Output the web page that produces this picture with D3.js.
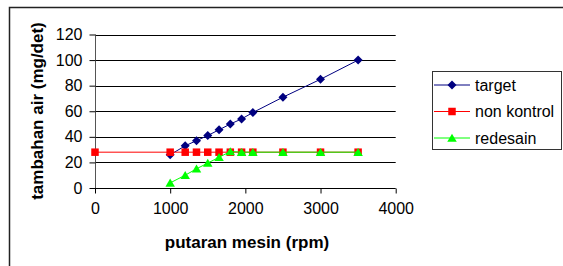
<!DOCTYPE html>
<html>
<head>
<meta charset="utf-8">
<script src="https://cdn.jsdelivr.net/npm/d3@7"></script>
<style>
  html, body { margin: 0; padding: 0; background: #fff; }
  svg { display: block; font-family: Arial, "Liberation Sans", sans-serif; }
</style>
</head>
<body>
<div class="graphics"></div>
<script>
// data
const rpm = [1000, 1200, 1350, 1500, 1650, 1800, 1950, 2100, 2500, 3000, 3500];
const target = [26, 33, 37, 41, 45.5, 50, 54, 59, 71, 85, 100];
const rpmNonKontrol = [0, 1000, 1200, 1350, 1500, 1650, 1800, 1950, 2100, 2500, 3000, 3500];
const nonKontrol = [28, 28, 28, 28, 28, 28, 28, 28, 28, 28, 28, 28];
const redesain = [4, 10, 15, 19.5, 24, 28.5, 28, 28, 28, 28, 28];
const xTicks = [0, 1000, 2000, 3000, 4000];
const yTicks = [0, 20, 40, 60, 80, 100, 120];

const width = 563;
const height = 266;
const margin = { top: 34.5, right: 166, bottom: 78, left: 95 };

// excel-like marker shapes (size = full width in px)
const diamond = {
  draw(ctx, s) { const r = s / 2; ctx.moveTo(0, -r); ctx.lineTo(r, 0); ctx.lineTo(0, r); ctx.lineTo(-r, 0); ctx.closePath(); }
};
const square = {
  draw(ctx, s) { const r = s / 2; ctx.rect(-r, -r, s, s); }
};
const triangle = {
  draw(ctx, s) { const r = s / 2; ctx.moveTo(0, -r * 0.9); ctx.lineTo(r, r * 0.8); ctx.lineTo(-r, r * 0.8); ctx.closePath(); }
};

const svg = d3.select('.graphics')
  .append('svg')
  .attr('width', width)
  .attr('height', height);

// outer frame (only top and left are visible in the picture)
svg.append('rect')
  .attr('x', 9.5).attr('y', 7.5)
  .attr('width', 600).attr('height', 300)
  .attr('fill', 'none')
  .attr('stroke', '#222')
  .attr('stroke-width', 1.5);

const x = d3.scaleLinear()
  .domain([0, 4000])
  .range([margin.left, width - margin.right - 1.3]);

const y = d3.scaleLinear()
  .domain([0, 120])
  .range([height - margin.bottom, margin.top]);

// gridlines
svg.append('g')
  .selectAll('line')
  .data(yTicks.filter(d => d > 0))
  .join('line')
  .attr('x1', x(0)).attr('x2', x(4000))
  .attr('y1', d => Math.round(y(d)) + 0.5)
  .attr('y2', d => Math.round(y(d)) + 0.5)
  .attr('stroke', '#000')
  .attr('stroke-width', 1);

// axes
const xAxis = svg.append('g')
  .attr('transform', `translate(0,${Math.round(y(0)) + 0.5})`)
  .call(d3.axisBottom(x).tickValues(xTicks).tickSize(5).tickPadding(9).tickFormat(d3.format('d')));
xAxis.select('.domain').attr('stroke', '#000').attr('d', `M${x(0)},0H${x(4000)}`);
xAxis.selectAll('line').attr('stroke', '#000');
xAxis.selectAll('text').attr('font-size', 16).attr('fill', '#000').attr('font-family', 'Arial, "Liberation Sans", sans-serif');

const yAxis = svg.append('g')
  .attr('transform', `translate(${Math.round(x(0)) + 0.5},0)`)
  .call(d3.axisLeft(y).tickValues(yTicks).tickSize(6).tickPadding(7));
yAxis.select('.domain').attr('stroke', '#555').attr('d', `M0,${y(0)}V${y(120)}`);
yAxis.selectAll('line').attr('stroke', '#000');
yAxis.selectAll('text').attr('font-size', 16).attr('fill', '#000').attr('font-family', 'Arial, "Liberation Sans", sans-serif');

// axis titles
svg.append('text')
  .attr('x', 247).attr('y', 248)
  .attr('text-anchor', 'middle')
  .attr('font-size', 17).attr('font-weight', 'bold')
  .text('putaran mesin (rpm)');

svg.append('text')
  .attr('transform', 'translate(43,111) rotate(-90)')
  .attr('text-anchor', 'middle')
  .attr('font-size', 17).attr('font-weight', 'bold')
  .text('tambahan air (mg/det)');

const series = [
  { name: 'target', xs: rpm, ys: target, color: '#000080', symbol: diamond, size: 9 },
  { name: 'non kontrol', xs: rpmNonKontrol, ys: nonKontrol, color: '#ff0000', symbol: square, size: 7.5 },
  { name: 'redesain', xs: rpm, ys: redesain, color: '#00ff00', symbol: triangle, size: 9.5 }
];

const line = d3.line().x(d => x(d[0])).y(d => y(d[1]));

series.forEach(s => {
  const pts = s.xs.map((v, i) => [v, s.ys[i]]);
  svg.append('path')
    .attr('d', line(pts))
    .attr('fill', 'none')
    .attr('stroke', s.color)
    .attr('stroke-width', 1);
  svg.append('g')
    .selectAll('path')
    .data(pts)
    .join('path')
    .attr('d', d3.symbol().type(s.symbol).size(s.size))
    .attr('transform', d => `translate(${x(d[0])},${y(d[1])})`)
    .attr('fill', s.color);
});

// legend
const legend = svg.append('g');
legend.append('rect')
  .attr('x', 432.5).attr('y', 71.5)
  .attr('width', 129).attr('height', 78)
  .attr('fill', '#fff')
  .attr('stroke', '#333')
  .attr('stroke-width', 1);

series.forEach((s, i) => {
  const ly = 85 + i * 26.5;
  legend.append('line')
    .attr('x1', 434).attr('x2', 470)
    .attr('y1', ly).attr('y2', ly)
    .attr('stroke', s.color);
  legend.append('path')
    .attr('d', d3.symbol().type(s.symbol).size(s.size))
    .attr('transform', `translate(452,${ly})`)
    .attr('fill', s.color);
  legend.append('text')
    .attr('x', 475).attr('y', ly)
    .attr('dy', '0.35em')
    .attr('font-size', 16)
    .text(s.name);
});
</script>
</body>
</html>
